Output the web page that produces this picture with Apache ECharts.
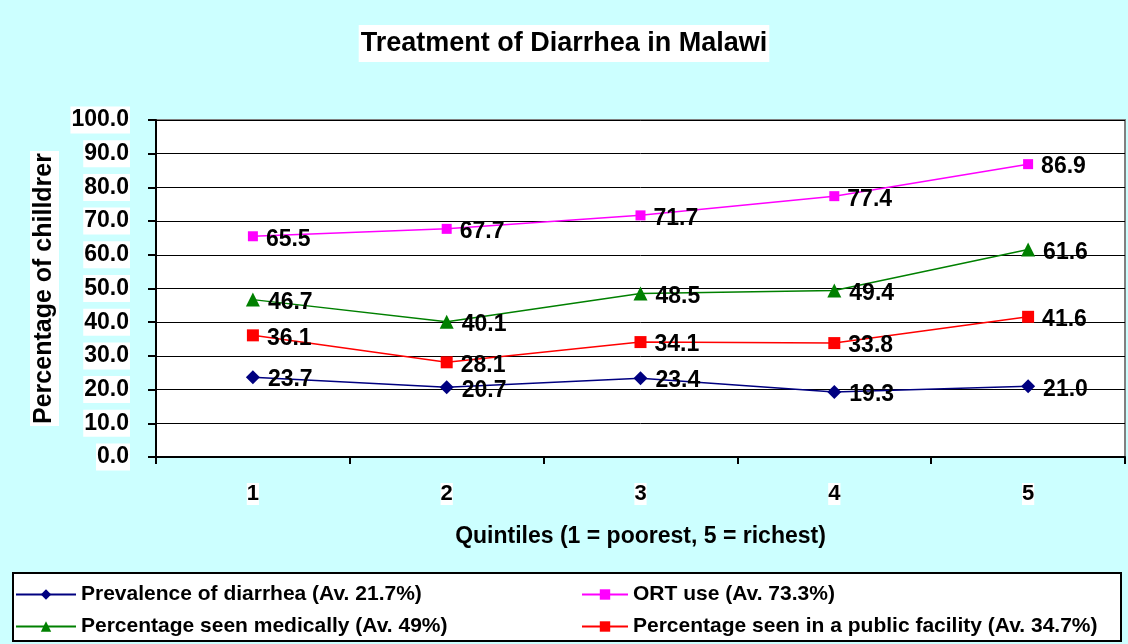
<!DOCTYPE html>
<html>
<head>
<meta charset="utf-8">
<script src="https://cdn.jsdelivr.net/npm/echarts@6/dist/echarts.min.js"></script>
<style>
  html, body { margin: 0; padding: 0; background: #fff; }
  #chart { width: 1128px; height: 644px; }
</style>
</head>
<body>
<div id="chart"></div>
<script>
// Quintile categories and the four series
var quintiles = ['1', '2', '3', '4', '5'];
var prevalence = [23.7, 20.7, 23.4, 19.3, 21.0];
var ortUse = [65.5, 67.7, 71.7, 77.4, 86.9];
var seenMedically = [46.7, 40.1, 48.5, 49.4, 61.6];
var publicFacility = [36.1, 28.1, 34.1, 33.8, 41.6];

var names = [
    'Prevalence of diarrhea (Av. 21.7%)',
    'ORT use (Av. 73.3%)',
    'Percentage seen medically (Av. 49%)',
    'Percentage seen in a public facility (Av. 34.7%)'
];

var myChart = echarts.init(document.getElementById('chart'));

var font = 'Arial, "Liberation Sans", sans-serif';

// common label for the values next to each point
function valueLabel() {
    return {
        show: true,
        position: 'right',
        distance: 8,
        color: '#000',
        fontFamily: font,
        fontWeight: 'bold',
        fontSize: 23,
        offset: [0, 3],
        formatter: function (p) { return p.value.toFixed(1); }
    };
}

function makeSeries(name, data, color, symbol, size) {
    return {
        name: name,
        type: 'line',
        data: data,
        symbol: symbol,
        symbolSize: size,
        itemStyle: { color: color },
        lineStyle: { color: color, width: 1.5 },
        label: valueLabel()
    };
}

var legendText = { color: '#000', fontFamily: font, fontWeight: 'bold', fontSize: 21 };

var option = {
    backgroundColor: '#CCFFFF',
    animation: false,
    title: {
        text: 'Treatment of Diarrhea in Malawi',
        left: 'center',
        top: 25,
        backgroundColor: '#fff',
        padding: [5, 2, 5, 2],
        textStyle: { color: '#000', fontFamily: font, fontWeight: 'bold', fontSize: 27 }
    },
    graphic: [{
        type: 'rect',
        left: 12, top: 572,
        shape: { width: 1108, height: 68 },
        style: { fill: '#fff', stroke: '#000', lineWidth: 2 },
        z: 0
    }],
    legend: [{
        data: [names[0], names[2]],
        orient: 'vertical',
        left: 10, top: 579,
        itemGap: 11,
        itemWidth: 60, itemHeight: 13,
        textStyle: legendText,
        z: 5
    }, {
        data: [names[1], names[3]],
        orient: 'vertical',
        left: 576, top: 579,
        itemGap: 11,
        itemWidth: 46, itemHeight: 13,
        textStyle: legendText,
        z: 5
    }],
    grid: {
        left: 156, top: 120, right: 3, bottom: 187,
        show: true,
        backgroundColor: '#fff',
        borderColor: '#808080',
        borderWidth: 2
    },
    xAxis: {
        type: 'category',
        data: quintiles,
        boundaryGap: true,
        name: 'Quintiles (1 = poorest, 5 = richest)',
        nameLocation: 'middle',
        nameGap: 68,
        nameTextStyle: { color: '#000', fontFamily: font, fontWeight: 'bold', fontSize: 23 },
        axisLine: { lineStyle: { color: '#000', width: 2 } },
        axisTick: { show: true, length: 7, lineStyle: { color: '#000', width: 2 } },
        axisLabel: { color: '#000', fontFamily: font, fontWeight: 'bold', fontSize: 22, margin: 26, backgroundColor: '#fff' }
    },
    yAxis: {
        type: 'value',
        min: 0, max: 100, interval: 10,
        name: 'Percentage of chilldrer',
        nameLocation: 'middle',
        nameGap: 97,
        nameTextStyle: {
            color: '#000', fontFamily: font, fontWeight: 'bold', fontSize: 25,
            backgroundColor: '#fff', padding: [2, 2, 2, 2]
        },
        axisLine: { show: true, lineStyle: { color: '#000', width: 2 } },
        axisTick: { show: true, length: 8, lineStyle: { color: '#000', width: 2 } },
        splitLine: { lineStyle: { color: '#000', width: 1 } },
        axisLabel: {
            color: '#000', fontFamily: font, fontWeight: 'bold', fontSize: 23,
            margin: 26, backgroundColor: '#fff', padding: [2, 1, 2, 1],
            formatter: function (v) { return v.toFixed(1); }
        }
    },
    series: [
        makeSeries(names[0], prevalence, '#000080', 'diamond', 14),
        makeSeries(names[1], ortUse, '#FF00FF', 'rect', 10),
        makeSeries(names[2], seenMedically, '#008000', 'triangle', 14),
        makeSeries(names[3], publicFacility, '#FF0000', 'rect', 12)
    ]
};

myChart.setOption(option);
</script>
</body>
</html>
